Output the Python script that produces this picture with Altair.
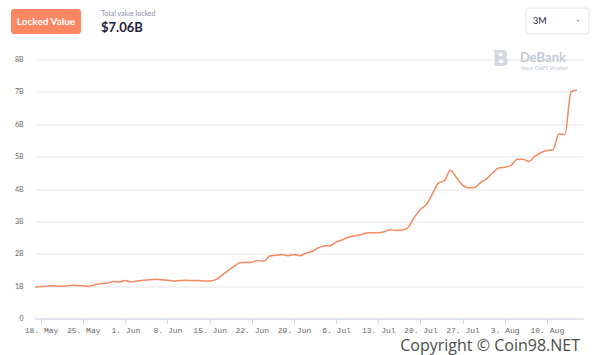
import altair as alt
import pandas as pd

# Daily total value locked (billions USD), 17 May – 15 Aug 2020
dates = pd.date_range("2020-05-17", "2020-08-15", freq="D").strftime("%Y-%m-%d").tolist()
values = [
    0.97, 0.99, 1.00, 1.01, 1.00, 1.00, 1.03, 1.02, 1.01, 1.00,
    1.04, 1.08, 1.09, 1.14, 1.13, 1.17, 1.13, 1.16, 1.18, 1.20,
    1.21, 1.20, 1.18, 1.16, 1.17, 1.18, 1.17, 1.17, 1.16, 1.16,
    1.20, 1.33, 1.47, 1.60, 1.72, 1.73, 1.74, 1.79, 1.77, 1.93,
    1.95, 1.98, 1.94, 1.98, 1.94, 2.02, 2.07, 2.18, 2.24, 2.25,
    2.36, 2.43, 2.51, 2.55, 2.58, 2.64, 2.65, 2.65, 2.68, 2.74,
    2.72, 2.73, 2.82, 3.13, 3.37, 3.52, 3.85, 4.18, 4.26, 4.58,
    4.35, 4.12, 4.04, 4.05, 4.20, 4.32, 4.50, 4.65, 4.67, 4.72,
    4.91, 4.92, 4.85, 5.01, 5.12, 5.19, 5.21, 5.70, 5.68, 7.00,
    7.06,
]
tick_dates = [(2020, 5, 18), (2020, 5, 25), (2020, 6, 1), (2020, 6, 8), (2020, 6, 15),
              (2020, 6, 22), (2020, 6, 29), (2020, 7, 6), (2020, 7, 13), (2020, 7, 20),
              (2020, 7, 27), (2020, 8, 3), (2020, 8, 10)]
y_ticks = [0, 1, 2, 3, 4, 5, 6, 7, 8]

df = pd.DataFrame({"date": dates, "tvl": values})
one = pd.DataFrame({"k": [0]})

W, H = 548, 259
LINE = "#F3895F"
FONT = "Lato"

x_enc = alt.X(
    "date:T",
    scale=alt.Scale(type="utc",
                    domain=[alt.DateTime(year=2020, month=5, date=17, utc=True),
                            alt.DateTime(year=2020, month=8, date=16, utc=True)]),
    axis=alt.Axis(
        values=[alt.DateTime(year=y, month=m, date=d, utc=True) for (y, m, d) in tick_dates],
        labelExpr="utcFormat(datum.value, '%-d. %b')",
        title=None, grid=False, domainColor="#ccd6eb", tickColor="#ccd6eb",
        tickSize=5, labelFont="Liberation Mono", labelFontSize=8, labelColor="#666666",
        labelPadding=3, labelFlush=False,
    ),
)
y_enc = alt.Y(
    "tvl:Q",
    scale=alt.Scale(domain=[0, 8], nice=False),
    axis=alt.Axis(
        values=y_ticks, labelExpr="datum.value == 0 ? '0' : datum.value + 'B'",
        title=None, domain=False, ticks=False, gridColor="#e6e6e6",
        labelFont=FONT, labelFontSize=7, labelColor="#666666", labelPadding=12,
    ),
)

line = alt.Chart(df).mark_line(color=LINE, strokeWidth=1.5, interpolate="monotone").encode(
    x=x_enc, y=y_enc
)

base = alt.Chart(one)

button = base.mark_rect(color="#FF8662", cornerRadius=3).encode(
    x=alt.value(-24), x2=alt.value(46), y=alt.value(-50.5), y2=alt.value(-25.5)
)
button_txt = base.mark_text(text="Locked Value", color="white", font=FONT, fontWeight="bold",
                            fontSize=10, align="center", baseline="middle").encode(
    x=alt.value(11), y=alt.value(-37.5)
)
tvl_lbl = base.mark_text(text="Total value locked", color="#8a8fa0", font=FONT, fontSize=7,
                         align="left", baseline="alphabetic").encode(
    x=alt.value(66), y=alt.value(-43.5)
)
tvl_val = base.mark_text(text="$7.06B", color="#1d2337", font=FONT, fontWeight="bold",
                         fontSize=13, align="left", baseline="alphabetic").encode(
    x=alt.value(66), y=alt.value(-27.5)
)
dropdown = base.mark_rect(fill="white", stroke="#e2e4ea", strokeWidth=1, cornerRadius=3).encode(
    x=alt.value(491), x2=alt.value(554), y=alt.value(-51.5), y2=alt.value(-25.5)
)
dd_txt = base.mark_text(text="3M", color="#1d2337", font=FONT, fontSize=9,
                        align="left", baseline="middle").encode(
    x=alt.value(498), y=alt.value(-38.5)
)
dd_caret = base.mark_point(shape="triangle-down", filled=True, color="#888888", size=10).encode(
    x=alt.value(543), y=alt.value(-38.5)
)
logo = base.mark_text(text="B", color="#d3d7df", font="DejaVu Sans", fontWeight="bold",
                      fontSize=22, align="center", baseline="middle").encode(
    x=alt.value(466), y=alt.value(-0.5)
)
deb = base.mark_text(text="DeBank", color="#c5cad6", font=FONT, fontWeight="bold", fontSize=13,
                     align="left", baseline="alphabetic").encode(
    x=alt.value(485), y=alt.value(2.5)
)
deb2 = base.mark_text(text="Your DeFi Wallet", color="#c5cad6", font=FONT, fontSize=6.5,
                      align="left", baseline="alphabetic").encode(
    x=alt.value(485), y=alt.value(10.5)
)
copy = base.mark_text(text="Copyright © Coin98.NET", color="#4d4d4d", font="Open Sans",
                      fontSize=16, align="right", baseline="alphabetic").encode(
    x=alt.value(545), y=alt.value(291)
)

chart = alt.layer(
    line, button, button_txt, tvl_lbl, tvl_val, dropdown, dd_txt, dd_caret,
    logo, deb, deb2, copy
).properties(
    width=W, height=H,
    padding={"left": 35, "top": 59.5, "right": 12, "bottom": 36.5},
    autosize=alt.AutoSizeParams(type="none"),
    background="white",
).configure_view(stroke=None)

chart.save("out.html", embed_options={"renderer": "svg", "actions": False})
